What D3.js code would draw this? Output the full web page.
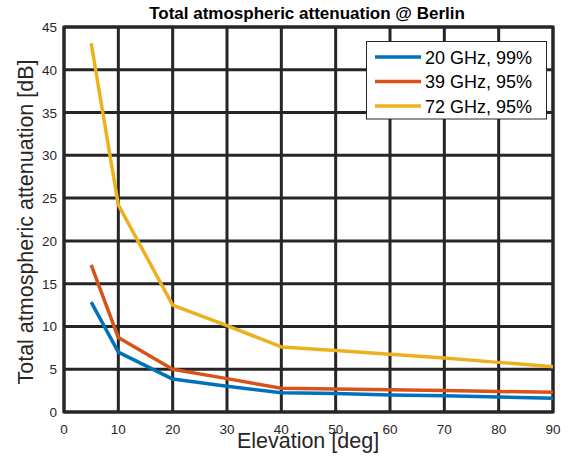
<!DOCTYPE html>
<html>
<head>
<meta charset="utf-8">
<script src="https://d3js.org/d3.v7.min.js"></script>
<style>
  body { margin: 0; background: #fff; }
  svg { font-family: Arial, "Liberation Sans", sans-serif; }
</style>
</head>
<body>
<svg></svg>
<script>
var elevation = [5, 10, 20, 30, 40, 50, 60, 70, 80, 90];
var att20 = [12.85, 7.0, 3.85, 3.0, 2.25, 2.15, 2.0, 1.9, 1.75, 1.6];
var att39 = [17.2, 8.7, 5.0, 3.9, 2.77, 2.7, 2.6, 2.5, 2.4, 2.3];
var att72 = [43.1, 24.2, 12.5, 10.1, 7.6, 7.2, 6.75, 6.3, 5.8, 5.3];
var seriesNames = ['20 GHz, 99%', '39 GHz, 95%', '72 GHz, 95%'];
var seriesColors = ['#0072BD', '#D95319', '#EDB120'];
var xTicks = [0, 10, 20, 30, 40, 50, 60, 70, 80, 90];
var yTicks = [0, 5, 10, 15, 20, 25, 30, 35, 40, 45];

var W = 574, H = 459;
var svg = d3.select('svg').attr('width', W).attr('height', H);

var x = d3.scaleLinear().domain([0, 90]).range([64, 553]);
var y = d3.scaleLinear().domain([0, 45]).range([412, 27]);
var dark = '#262626';

// grid
svg.append('g').selectAll('line.gx')
    .data(xTicks).enter().append('line')
    .attr('x1', d => x(d)).attr('x2', d => x(d))
    .attr('y1', y(0)).attr('y2', y(45))
    .attr('stroke', dark).attr('stroke-width', 3);
svg.append('g').selectAll('line.gy')
    .data(yTicks).enter().append('line')
    .attr('x1', x(0)).attr('x2', x(90))
    .attr('y1', d => y(d)).attr('y2', d => y(d))
    .attr('stroke', dark).attr('stroke-width', 3);

// border
svg.append('rect')
    .attr('x', x(0)).attr('y', y(45))
    .attr('width', x(90) - x(0)).attr('height', y(0) - y(45))
    .attr('fill', 'none').attr('stroke', dark).attr('stroke-width', 3);

// tick labels
svg.append('g').selectAll('text')
    .data(xTicks).enter().append('text')
    .attr('x', d => x(d)).attr('y', 434)
    .attr('text-anchor', 'middle')
    .attr('font-size', 13.5).attr('fill', dark)
    .text(d => d);
svg.append('g').selectAll('text')
    .data(yTicks).enter().append('text')
    .attr('x', 57).attr('y', d => y(d) + 5)
    .attr('text-anchor', 'end')
    .attr('font-size', 13.5).attr('fill', dark)
    .text(d => d);

// lines
var all = [att20, att39, att72];
var line = d3.line()
    .x((d, i) => x(elevation[i]))
    .y(d => y(d));
svg.append('g').selectAll('path')
    .data(all).enter().append('path')
    .attr('d', d => line(d))
    .attr('fill', 'none')
    .attr('stroke', (d, i) => seriesColors[i])
    .attr('stroke-width', 3.5)
    .attr('stroke-linejoin', 'round');

// title and labels
svg.append('text')
    .attr('x', 307).attr('y', 19)
    .attr('text-anchor', 'middle')
    .attr('font-size', 17).attr('font-weight', 'bold').attr('fill', '#000')
    .text('Total atmospheric attenuation @ Berlin');
svg.append('text')
    .attr('x', 308).attr('y', 448)
    .attr('text-anchor', 'middle')
    .attr('font-size', 21.5).attr('fill', dark)
    .text('Elevation [deg]');
svg.append('text')
    .attr('transform', 'translate(33,222) rotate(-90)')
    .attr('text-anchor', 'middle')
    .attr('font-size', 21.5).attr('fill', dark)
    .text('Total atmospheric attenuation [dB]');

// legend
var lg = svg.append('g');
lg.append('rect')
    .attr('x', 366.5).attr('y', 41.5)
    .attr('width', 180).attr('height', 77.5)
    .attr('fill', '#fff').attr('stroke', dark).attr('stroke-width', 1);
var rows = lg.selectAll('g').data(seriesNames).enter().append('g')
    .attr('transform', (d, i) => 'translate(0,' + (57 + i * 24.5) + ')');
rows.append('line')
    .attr('x1', 375).attr('x2', 421)
    .attr('stroke', (d, i) => seriesColors[i])
    .attr('stroke-width', 3.5);
rows.append('text')
    .attr('x', 425).attr('y', 6.5)
    .attr('font-size', 18).attr('fill', '#000')
    .text(d => d);
</script>
</body>
</html>
